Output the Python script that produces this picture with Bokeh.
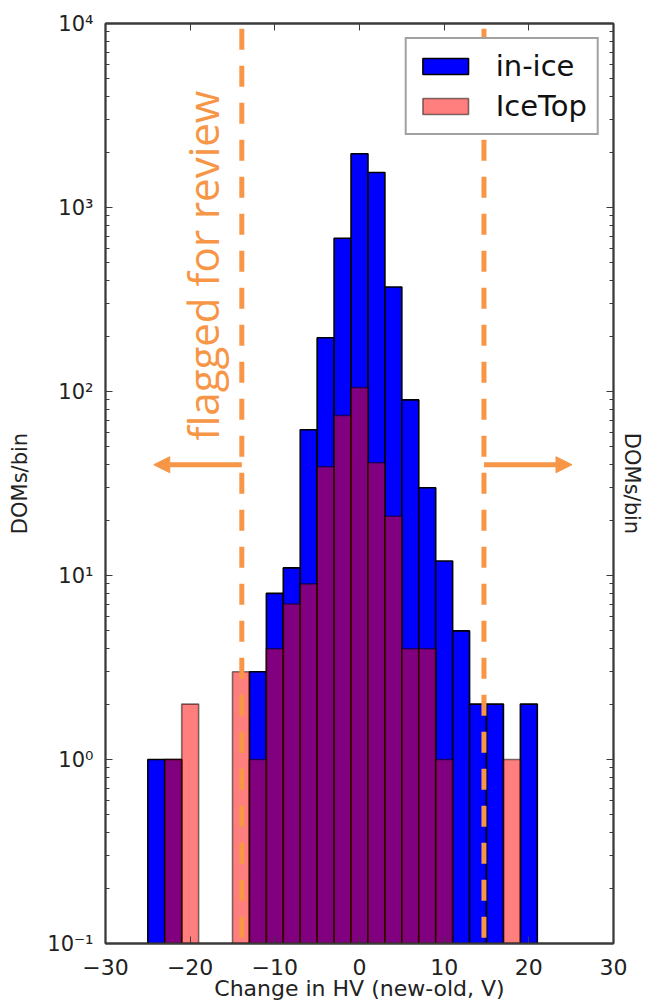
import math
from bokeh.plotting import figure
from bokeh.models import (FixedTicker, LogAxis, LinearAxis, CustomJSTickFormatter,
                          CustomLabelingPolicy, Arrow, NormalHead, Legend, LegendItem,
                          Label, ColumnDataSource)
from bokeh.embed import file_html
from bokeh.resources import INLINE

# ---- data ----
bin_left = [-25, -23, -21, -19, -17, -15, -13, -11, -9, -7, -5, -3, -1,
            1, 3, 5, 7, 9, 11, 13, 15, 17, 19]
bin_right = [-23, -21, -19, -17, -15, -13, -11, -9, -7, -5, -3, -1, 1,
             3, 5, 7, 9, 11, 13, 15, 17, 19, 21]
in_ice = [1, 1, 0, 0, 0, 0, 3, 8, 11, 62, 196, 680, 1960,
          1550, 370, 90, 30, 12, 5, 2, 2, 0, 2]
ice_top = [0, 1, 2, 0, 0, 3, 1, 4, 7, 9, 39, 74, 105,
           41, 21, 4, 4, 1, 0, 0, 0, 1, 0]
series_names = ["in-ice", "IceTop"]

x_ticks = [-30, -20, -10, 0, 10, 20, 30]
y_ticks = [0.1, 1, 10, 100, 1000, 10000]
y_minor = [m * 10.0 ** e for e in range(-1, 4) for m in range(2, 10)]

flag_low = -13.9
flag_high = 14.7
flag_line_top = 13300      # dashed markers run up past the frame top
arrow_y = 40
arrow_low_end = -24.3
arrow_high_end = 25.1
flag_text = "flagged for review"
flag_text_x = -18.6
flag_text_y = 484

ORANGE = "#F79646"
FRAME = "#3a3a3a"
FONT = "DejaVu Sans"


def bars(values):
    idx = [i for i, v in enumerate(values) if v > 0]
    return ColumnDataSource(dict(
        left=[bin_left[i] for i in idx],
        right=[bin_right[i] for i in idx],
        top=[values[i] for i in idx],
        bottom=[0.1] * len(idx),
    ))


p = figure(width=660, height=1003, x_range=(-30, 30), y_range=(0.1, 1e4),
           y_axis_type="log", output_backend="svg", toolbar_location=None,
           min_border_left=105, min_border_right=47, min_border_top=23,
           min_border_bottom=60)
p.grid.visible = False
p.outline_line_color = FRAME
p.outline_line_width = 1.8
p.background_fill_color = "white"
p.border_fill_color = "white"

r1 = p.quad(source=bars(in_ice), left="left", right="right", top="top",
            bottom="bottom", fill_color="#0000FF", line_color="black",
            line_width=1.6)
r2 = p.quad(source=bars(ice_top), left="left", right="right", top="top",
            bottom="bottom", fill_color="#FF0000", fill_alpha=0.5,
            line_color="black", line_alpha=0.5, line_width=1.6)

xfmt = CustomJSTickFormatter(code="return tick < 0 ? '\u2212' + Math.abs(tick) : String(tick);")
yfmt = CustomJSTickFormatter(code="""
const e = Math.round(Math.log10(tick));
const m = {"-1": "10\u207b\u00b9", "0": "10\u2070", "1": "10\u00b9",
           "2": "10\u00b2", "3": "10\u00b3", "4": "10\u2074"};
return m[String(e)] || "";
""")


def style_axis(ax):
    ax.axis_line_color = FRAME
    ax.axis_line_width = 1.8
    ax.major_tick_line_color = FRAME
    ax.minor_tick_line_color = FRAME
    ax.major_tick_in = 7
    ax.major_tick_out = 0
    ax.minor_tick_in = 4
    ax.minor_tick_out = 0
    ax.major_label_text_font = FONT
    ax.major_label_text_color = "#222222"
    ax.axis_label_text_font = FONT
    ax.axis_label_text_font_style = "normal"
    ax.axis_label_text_color = "#222222"


def hide_labels(ax):
    ax.formatter = CustomJSTickFormatter(code="return '';")
    ax.major_label_policy = CustomLabelingPolicy(code="return new Set();")
    ax.major_label_standoff = 0


xa = p.xaxis[0]
style_axis(xa)
xa.ticker = FixedTicker(ticks=x_ticks)
xa.formatter = xfmt
xa.major_label_text_font_size = "22px"
xa.major_label_standoff = 15
xa.axis_label = "Change in HV (new-old, V)"
xa.axis_label_text_font_size = "22px"
xa.axis_label_standoff = -2

ya = p.yaxis[0]
style_axis(ya)
ya.ticker = FixedTicker(ticks=y_ticks, minor_ticks=y_minor)
ya.formatter = yfmt
ya.major_label_text_font_size = "21px"
ya.major_label_standoff = 12
ya.axis_label = "DOMs/bin"
ya.axis_label_text_font_size = "21px"
ya.axis_label_standoff = 12

top_ax = LinearAxis(ticker=FixedTicker(ticks=x_ticks))
style_axis(top_ax)
hide_labels(top_ax)
p.add_layout(top_ax, "above")

right_ax = LogAxis(ticker=FixedTicker(ticks=y_ticks, minor_ticks=y_minor))
style_axis(right_ax)
hide_labels(right_ax)
right_ax.axis_label = "DOMs/bin"
right_ax.axis_label_text_font_size = "21px"
right_ax.axis_label_standoff = 6
p.add_layout(right_ax, "right")

# flagged region markers (dashed lines drawn from above the frame down to the axis)
for loc in (flag_low, flag_high):
    p.add_layout(Arrow(start=None, end=None, x_start=loc, y_start=flag_line_top,
                       x_end=loc, y_end=0.1, line_color=ORANGE, line_width=5,
                       line_dash="21 16", line_dash_offset=9))

for x_end in (arrow_low_end, arrow_high_end):
    x_start = flag_low if x_end < 0 else flag_high
    p.add_layout(Arrow(end=NormalHead(size=16, fill_color=ORANGE, line_color=ORANGE),
                       x_start=x_start, y_start=arrow_y, x_end=x_end, y_end=arrow_y,
                       line_color=ORANGE, line_width=5))

p.add_layout(Label(x=flag_text_x, y=flag_text_y, text=flag_text, angle=math.pi / 2,
                   text_align="center", text_baseline="alphabetic",
                   text_font="Open Sans", text_font_size="42px", text_color=ORANGE))

legend = Legend(items=[LegendItem(label=series_names[0], renderers=[r1]),
                       LegendItem(label=series_names[1], renderers=[r2])],
                location="top_right", margin=14, padding=10, spacing=6,
                glyph_width=57, glyph_height=20, label_standoff=22,
                label_text_font=FONT, label_text_font_size="29px",
                label_text_color="#111111",
                border_line_color="#444444", border_line_width=2,
                background_fill_color="white", background_fill_alpha=1)
p.add_layout(legend)

open("out.html", "w").write(file_html(p, INLINE))
